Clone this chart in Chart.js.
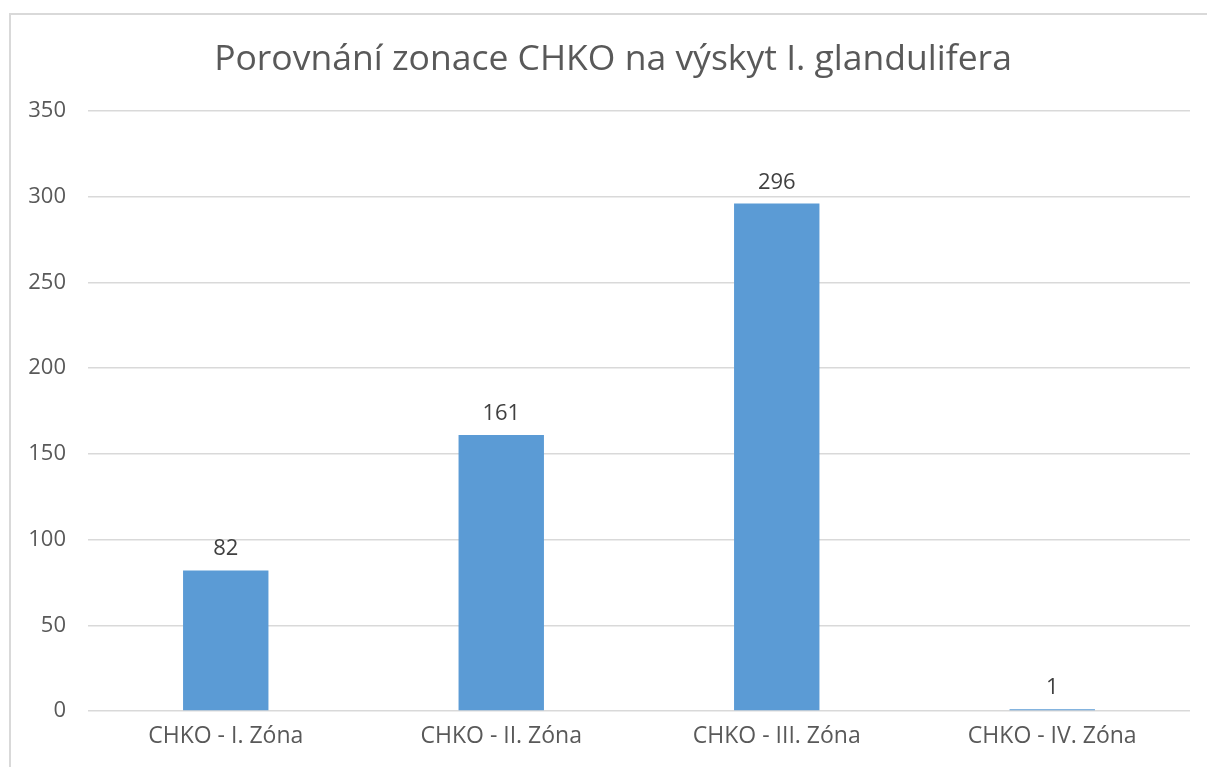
<!DOCTYPE html>
<html><head><meta charset="utf-8">
<script src="https://cdn.jsdelivr.net/npm/chart.js@4/dist/chart.umd.min.js"></script>
<style>
html,body{margin:0;padding:0;background:#fff;overflow:hidden;}
#frame{position:absolute;left:9px;top:13px;width:1220px;height:780px;border:2px solid #d9d9d9;box-sizing:border-box;}
#wrap{position:absolute;left:0;top:0;width:1207px;height:767px;}
</style></head>
<body>
<div id="frame"></div>
<div id="wrap"><canvas id="c" width="1207" height="767"></canvas></div>
<script>
const categories = ["CHKO - I. Zóna", "CHKO - II. Zóna", "CHKO - III. Zóna", "CHKO - IV. Zóna"];
const values = [82, 161, 296, 1];
const yTicks = [0, 50, 100, 150, 200, 250, 300, 350];
const titleText = "Porovnání zonace CHKO na výskyt I. glandulifera";

const FONT = "'Open Sans', sans-serif";
const TXT = "#595959";

const labelPlugin = {
  id: 'barLabels',
  afterDatasetsDraw(chart) {
    const ctx = chart.ctx;
    const meta = chart.getDatasetMeta(0);
    ctx.save();
    ctx.font = "22px " + FONT;
    ctx.fillStyle = "#404040";
    ctx.textAlign = "center";
    ctx.textBaseline = "alphabetic";
    meta.data.forEach((bar, i) => {
      ctx.fillText(String(values[i]), bar.x, bar.y - 15);
    });
    ctx.restore();
  }
};

const titlePlugin = {
  id: 'frameTitle',
  afterDraw(chart) {
    const ctx = chart.ctx;
    ctx.save();
    ctx.font = "35.5px " + FONT;
    ctx.fillStyle = TXT;
    ctx.textAlign = "center";
    ctx.textBaseline = "alphabetic";
    ctx.fillText(titleText, 613, 70);
    ctx.restore();
  }
};

new Chart(document.getElementById('c'), {
  type: 'bar',
  data: {
    labels: categories,
    datasets: [{
      data: values,
      backgroundColor: '#5B9BD5',
      borderWidth: 0,
      categoryPercentage: 1,
      barPercentage: 0.31
    }]
  },
  options: {
    responsive: false,
    animation: false,
    layout: { padding: { left: 0, right: 17, top: 111, bottom: 0 } },
    plugins: {
      legend: { display: false },
      tooltip: { enabled: false },
      title: { display: false }
    },
    scales: {
      x: {
        grid: { display: false, drawTicks: false },
        border: { display: false },
        ticks: { color: TXT, font: { family: FONT, size: 23 }, padding: 12 },
        afterFit(s) { s.height = 56; }
      },
      y: {
        min: 0, max: 350,
        afterBuildTicks(s) { s.ticks = yTicks.map(v => ({ value: v })); },
        grid: { color: '#d9d9d9', lineWidth: 1.5, drawTicks: false },
        border: { display: false },
        ticks: { color: TXT, font: { family: FONT, size: 22 }, padding: 22 },
        afterFit(s) { s.width = 88; }
      }
    }
  },
  plugins: [labelPlugin, titlePlugin]
});
</script>
</body></html>
